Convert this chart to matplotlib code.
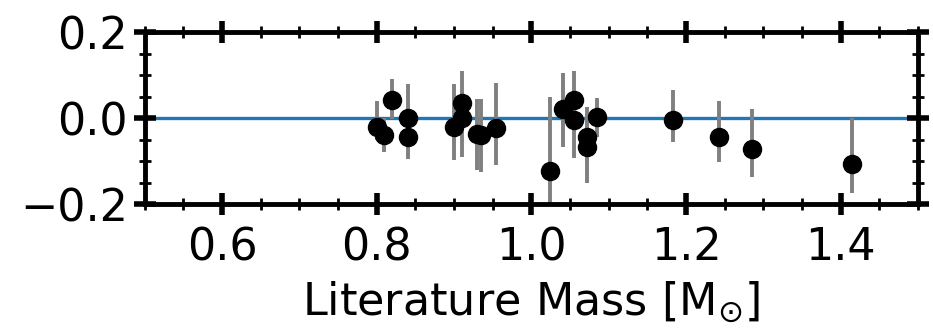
import numpy as np
import matplotlib
matplotlib.use("Agg")
import matplotlib.pyplot as plt
from matplotlib.ticker import MultipleLocator

# literature mass vs. residual
lit_mass = [0.80, 0.81, 0.82, 0.84, 0.84, 0.90, 0.91, 0.91, 0.93, 0.935,
            0.954, 1.024, 1.041, 1.055, 1.055, 1.072, 1.072, 1.085,
            1.183, 1.243, 1.285, 1.415]
resid = [-0.020, -0.040, 0.042, 0.000, -0.045, -0.020, 0.036, 0.000, -0.036, -0.040,
         -0.024, -0.122, 0.022, 0.042, -0.005, -0.043, -0.067, 0.002,
         -0.005, -0.043, -0.073, -0.108]
err_lo = [0.032, 0.040, 0.045, 0.050, 0.050, 0.078, 0.060, 0.090, 0.085, 0.085,
          0.085, 0.080, 0.090, 0.060, 0.088, 0.060, 0.085, 0.045,
          0.050, 0.060, 0.065, 0.066]
err_hi = [0.060, 0.040, 0.048, 0.080, 0.050, 0.100, 0.073, 0.060, 0.080, 0.085,
          0.105, 0.172, 0.082, 0.067, 0.060, 0.069, 0.060, 0.044,
          0.070, 0.083, 0.093, 0.108]

fig = plt.figure(figsize=(9.33, 3.35), dpi=100)
ax = fig.add_axes([0.155, 0.391, 0.829, 0.513])

ax.axhline(0, color="#1f77b4", lw=2.4, zorder=1)
ax.errorbar(lit_mass, resid, yerr=[err_lo, err_hi], fmt="o", color="black",
            ms=13, ecolor="gray", elinewidth=2.8, capsize=0, zorder=2)

ax.set_xlim(0.5, 1.5)
ax.set_ylim(-0.2, 0.2)
ax.xaxis.set_major_locator(MultipleLocator(0.2))
ax.xaxis.set_minor_locator(MultipleLocator(0.05))
ax.yaxis.set_major_locator(MultipleLocator(0.2))
ax.yaxis.set_minor_locator(MultipleLocator(0.05))
ax.tick_params(which="both", direction="inout", top=True, right=True, labelsize=32)
ax.tick_params(which="major", length=16, width=4, pad=4)
ax.tick_params(axis="x", which="major", pad=8)
ax.tick_params(which="minor", length=8, width=2)
for sp in ax.spines.values():
    sp.set_linewidth(3.5)

ax.set_xlabel(r"Literature Mass [M$_{\odot}$]", fontsize=32, labelpad=7)

fig.savefig("out.png", dpi=100)
